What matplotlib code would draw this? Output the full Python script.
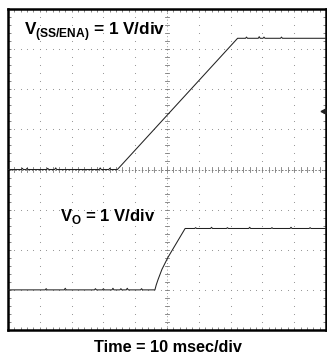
import matplotlib.pyplot as plt
import numpy as np

plt.rcParams['font.family'] = ['Liberation Sans', 'DejaVu Sans']
plt.rcParams['mathtext.fontset'] = 'custom'
plt.rcParams['mathtext.bf'] = 'Liberation Sans:bold'
plt.rcParams['mathtext.rm'] = 'Liberation Sans'

# scope traces, in divisions (x: 10 div, y: 8 div, centre = 0)
ss_t = [0.0, 3.44, 7.22, 10.0]
ss_v = [0.0, 0.0, 3.27, 3.27]

vo_t = [0.0, 4.62, 4.66, 4.72, 4.84, 5.03, 5.57, 10.0]
vo_v = [-3.0, -3.0, -2.88, -2.74, -2.49, -2.19, -1.47, -1.47]

# little glitches sitting on the flat parts (position, height in div)
ss_glitch_t = [0.45, 0.6, 1.25, 1.5, 2.9, 3.2, 7.5, 7.9, 8.05, 8.6]
ss_glitch_h = [0.03, 0.03, 0.03, 0.04, 0.04, 0.03, 0.03, 0.04, 0.03, 0.03]
vo_glitch_t = [1.2, 1.8, 2.75, 3.0, 3.3, 3.55, 3.75, 4.2, 5.9, 6.4, 6.9, 7.6, 8.3, 8.9, 9.5]
vo_glitch_h = [0.03, 0.04, 0.03, 0.03, 0.04, 0.03, 0.04, 0.03, 0.02, 0.03, 0.02, 0.03, 0.02, 0.03, 0.02]

marker_pos = (9.9, 1.45)

fig = plt.figure(figsize=(3.27, 3.53), dpi=100)
ax = fig.add_axes([8 / 327, 23 / 353, 318 / 327, 321 / 353])
ax.set_xlim(0, 10)
ax.set_ylim(-4, 4)

# dotted graticule
minor_x = np.arange(0, 10.01, 0.2)
minor_y = np.arange(-4, 4.01, 0.2)
for gx in range(1, 10):
    if gx == 5:
        continue
    ax.scatter(np.full(len(minor_y), gx), minor_y, s=0.6, color='#8c8c8c', lw=0, zorder=1)
for gy in range(-3, 4):
    if gy == 0:
        continue
    ax.scatter(minor_x, np.full(len(minor_x), gy), s=0.6, color='#8c8c8c', lw=0, zorder=1)

# centre cross with minor ticks
ax.plot([0, 10], [0, 0], color='#6a6a6a', lw=0.6, ls=(0, (2, 2)), zorder=1)
ax.plot([5, 5], [-4, 4], color='#7a7a7a', lw=0.6, ls=(0, (1, 3)), zorder=1)
for mx in minor_x:
    ax.plot([mx, mx], [-0.06, 0.06], color='#7a7a7a', lw=0.6, zorder=1)
for my in minor_y:
    ax.plot([4.95, 5.05], [my, my], color='#7a7a7a', lw=0.6, zorder=1)


def with_glitches(t, v, gt, gh):
    tt = list(t)
    vv = list(v)
    for g, h in zip(gt, gh):
        base = np.interp(g, t, v)
        tt += [g - 0.03, g, g + 0.03]
        vv += [base, base + h, base]
    order = np.argsort(tt, kind='stable')
    return np.array(tt)[order], np.array(vv)[order]


st, sv = with_glitches(ss_t, ss_v, ss_glitch_t, ss_glitch_h)
vt, vv = with_glitches(vo_t, vo_v, vo_glitch_t, vo_glitch_h)
ax.plot(st, sv, color='#222222', lw=0.75, zorder=3)
ax.plot(vt, vv, color='#222222', lw=0.75, zorder=3)

ax.plot(*marker_pos, marker='<', color='#222222', ms=3.5, zorder=4, clip_on=False)

ax.text(0.5, 3.45, r'V$_{\mathbf{(SS/ENA)}}$ = 1 V/div', fontsize=12.3,
        fontweight='bold', va='center', ha='left', zorder=5)
ax.text(1.65, -1.17, r'V$_{\mathbf{O}}$ = 1 V/div', fontsize=12,
        fontweight='bold', va='center', ha='left', zorder=5)
fig.text(168 / 327, 1 - 347 / 353, 'Time = 10 msec/div', fontsize=11.7,
         fontweight='bold', ha='center', va='center')

ax.set_xticks([])
ax.set_yticks([])
ax.set_xticks(minor_x, minor=True)
ax.set_yticks(minor_y, minor=True)
ax.tick_params(which='minor', direction='in', length=2, width=0.5, color='#555555',
               top=True, right=True, labelbottom=False, labelleft=False)
for sp in ax.spines.values():
    sp.set_linewidth(1.8)

fig.savefig('out.png', dpi=100)
